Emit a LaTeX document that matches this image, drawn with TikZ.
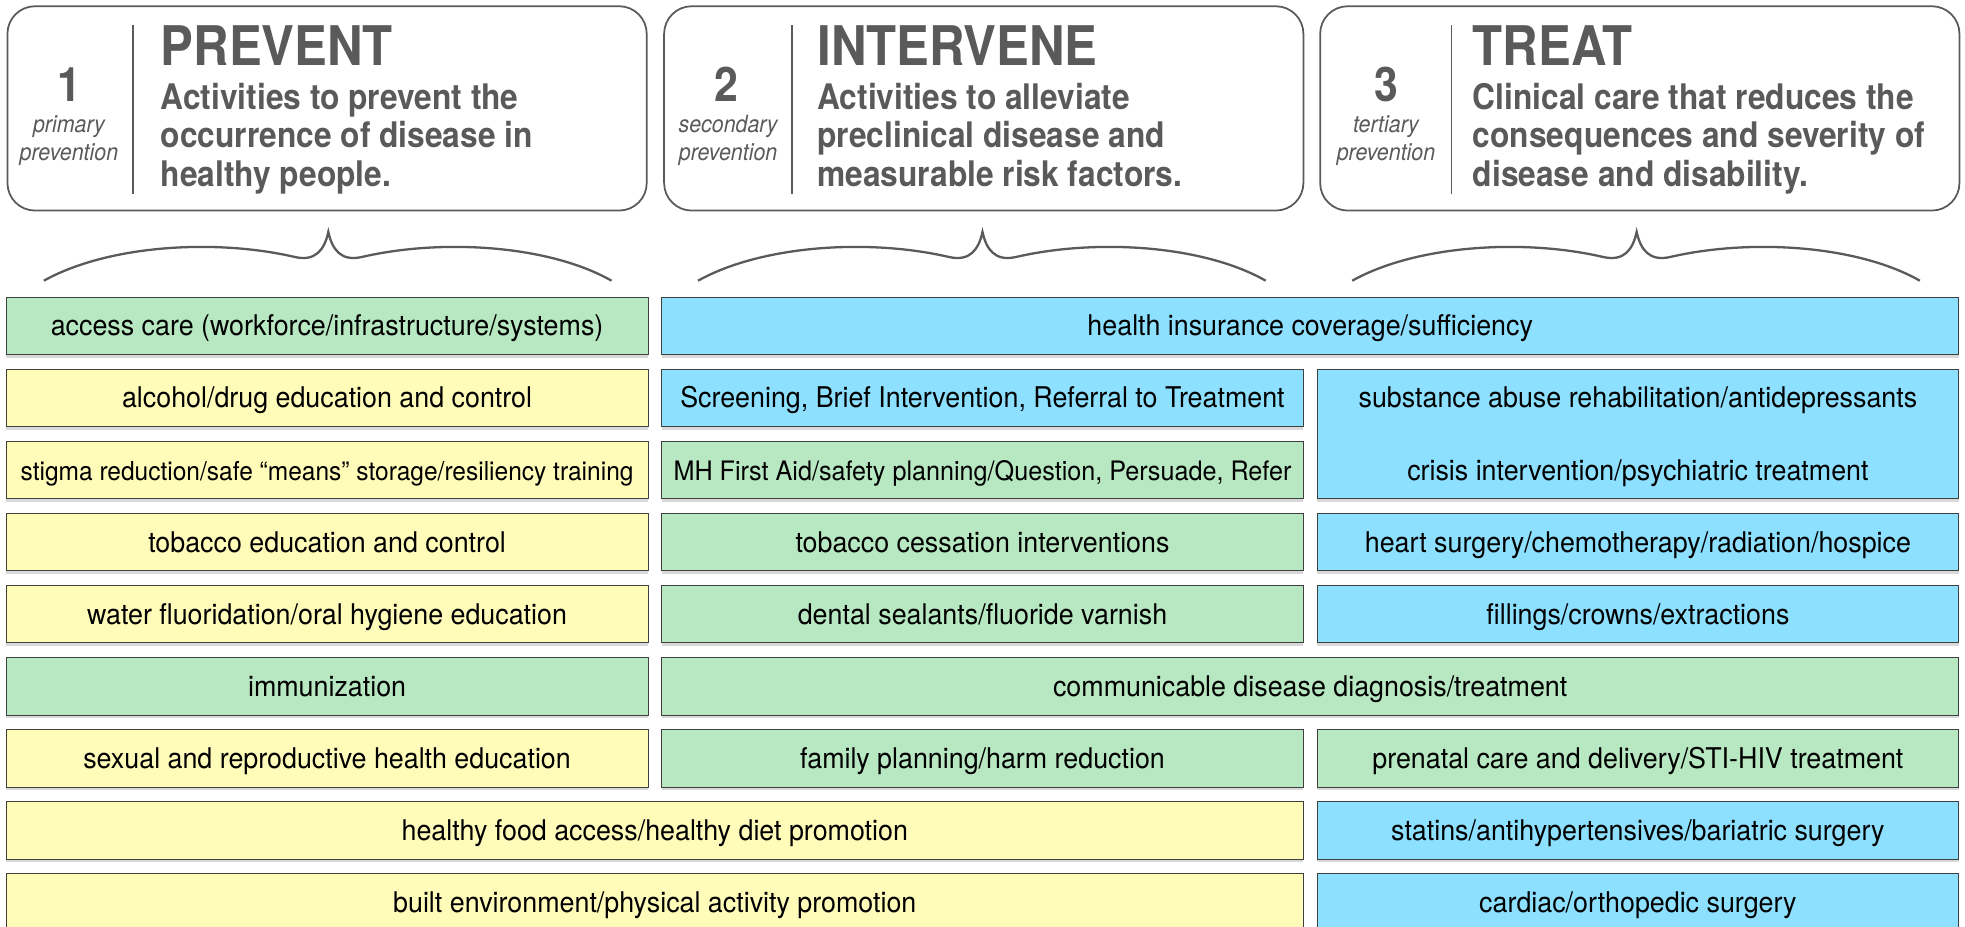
\documentclass[tikz,border=0pt]{standalone}
\usepackage{fontspec}
\setmainfont{TeX Gyre Heros}
\newfontfamily\headfont[FakeStretch=0.9]{TeX Gyre Heros}
\newfontfamily\rowfont[FakeStretch=0.94]{TeX Gyre Heros}
\usepackage{xcolor}
\usetikzlibrary{shadows}

\definecolor{cellgreen}{HTML}{B8E8C2}
\definecolor{cellyellow}{HTML}{FFFCBA}
\definecolor{cellblue}{HTML}{8DE0FF}
\definecolor{headgray}{HTML}{5A5A5A}

\begin{document}
\begin{tikzpicture}[
    x=0.025cm, y=-0.025cm,
    cell/.style={rectangle, draw=black!75, line width=0.5pt, fill=#1, minimum height=1.15cm, inner sep=0pt,
        font=\rowfont\fontsize{16.2}{19}\selectfont, text height=11.4pt, text depth=0pt,
        drop shadow={shadow xshift=0pt, shadow yshift=-1.8pt, opacity=0.3}},
    onecell/.style={cell=#1, minimum width=12.8cm},
    twocell/.style={cell=#1, minimum width=25.875cm},
    rowtext/.style={font=\rowfont\fontsize{16.2}{19}\selectfont, text height=11.4pt, text depth=0pt, inner sep=0pt},
    headbox/.style={rectangle, rounded corners=0.55cm, draw=headgray, line width=1pt, minimum width=12.75cm, minimum height=4.075cm},
    numtext/.style={font=\headfont\fontsize{27}{27}\selectfont\bfseries, text=headgray, inner sep=0pt},
    leveltext/.style={font=\headfont\fontsize{13.5}{15.6}\selectfont\itshape, text=headgray, align=center, inner sep=0pt},
    titletext/.style={font=\headfont\fontsize{31}{31}\selectfont\bfseries, text=headgray, inner sep=0pt},
    desctext/.style={font=\headfont\fontsize{20}{22}\selectfont\bfseries, text=headgray, align=left, inner sep=0pt},
    divider/.style={draw=headgray, line width=0.8pt},
    curly/.style={draw=headgray, line width=1.3pt},
]
\useasboundingbox (0,0) rectangle (1568,739);

% Header boxes
\node[headbox] (prevbox) at (261,86.5) {};
\node[headbox] (intbox) at (785,86.5) {};
\node[headbox] (treatbox) at (1308.5,86.5) {};

\draw[divider] (106,20) -- (106,155);
\draw[divider] (632,20) -- (632,155);
\draw[divider] (1158,20) -- (1158,155);

% 1 - prevent (base = last line)
\node[numtext, anchor=base] (prevnum) at (55,81) {1};
\node[leveltext, anchor=base] (prevlevel) at (55,128) {primary\\prevention};
\node[titletext, anchor=base west] (prevtitle) at (128,52) {PREVENT};
\node[desctext, anchor=base west] (prevdesc) at (128,149) {Activities to prevent the\\occurrence of disease in\\healthy people.};

% 2 - intervene
\node[numtext, anchor=base] (intnum) at (580,81) {2};
\node[leveltext, anchor=base] (intlevel) at (581,128) {secondary\\prevention};
\node[titletext, anchor=base west] (inttitle) at (652,52) {INTERVENE};
\node[desctext, anchor=base west] (intdesc) at (652,149) {Activities to alleviate\\preclinical disease and\\measurable risk factors.};

% 3 - treat
\node[numtext, anchor=base] (treatnum) at (1106,81) {3};
\node[leveltext, anchor=base] (treatlevel) at (1106,128) {tertiary\\prevention};
\node[titletext, anchor=base west] (treattitle) at (1175,52) {TREAT};
\node[desctext, anchor=base west] (treatdesc) at (1175,149) {Clinical care that reduces the\\consequences and severity of\\disease and disability.};

% Braces
\draw[curly] (35,224) .. controls (85,196) and (170,190) .. (235,205) .. controls (252,209) and (259,199) .. (262,185)
    .. controls (265,199) and (272,209) .. (289,205) .. controls (354,190) and (439,196) .. (488,224);
\draw[curly, shift={(522,0)}] (35,224) .. controls (85,196) and (170,190) .. (235,205) .. controls (252,209) and (259,199) .. (262,185)
    .. controls (265,199) and (272,209) .. (289,205) .. controls (354,190) and (439,196) .. (488,224);
\draw[curly, shift={(1044,0)}] (35,224) .. controls (85,196) and (170,190) .. (235,205) .. controls (252,209) and (259,199) .. (262,185)
    .. controls (265,199) and (272,209) .. (289,205) .. controls (354,190) and (439,196) .. (488,224);

% Row 1
\node[onecell=cellgreen] (access) at (261,260) {access care (workforce/infrastructure/systems)};
\node[twocell=cellblue] (insurance) at (1045.5,260) {health insurance coverage/sufficiency};

% Row 2
\node[onecell=cellyellow] (alcohol) at (261,317.5) {alcohol/drug education and control};
\node[onecell=cellblue] (sbirt) at (784,317.5) {Screening, Brief Intervention, Referral to Treatment};
\node[cell=cellblue, minimum width=12.8cm, minimum height=2.575cm] (rehab) at (1307,346.5) {};
\node[rowtext] (rehabtop) at (1307,317.5) {substance abuse rehabilitation/antidepressants};
\node[rowtext] (rehabbot) at (1307,375) {crisis intervention/psychiatric treatment};

% Row 3
\node[onecell=cellyellow, font=\rowfont\fontsize{14.8}{18}\selectfont] (stigma) at (261,375) {stigma reduction/safe \textquotedblleft means\textquotedblright\ storage/resiliency training};
\node[onecell=cellgreen, font=\rowfont\fontsize{15.2}{18}\selectfont] (firstaid) at (784,375) {MH First Aid/safety planning/Question, Persuade, Refer};

% Row 4
\node[onecell=cellyellow] (tobacco) at (261,432.5) {tobacco education and control};
\node[onecell=cellgreen] (cessation) at (784,432.5) {tobacco cessation interventions};
\node[onecell=cellblue] (heart) at (1307,432.5) {heart surgery/chemotherapy/radiation/hospice};

% Row 5
\node[onecell=cellyellow] (water) at (261,490) {water fluoridation/oral hygiene education};
\node[onecell=cellgreen] (sealants) at (784,490) {dental sealants/fluoride varnish};
\node[onecell=cellblue] (fillings) at (1307,490) {fillings/crowns/extractions};

% Row 6
\node[onecell=cellgreen] (immune) at (261,547.5) {immunization};
\node[twocell=cellgreen] (communicable) at (1045.5,547.5) {communicable disease diagnosis/treatment};

% Row 7
\node[onecell=cellyellow] (sexual) at (261,605) {sexual and reproductive health education};
\node[onecell=cellgreen] (planning) at (784,605) {family planning/harm reduction};
\node[onecell=cellgreen] (prenatal) at (1307,605) {prenatal care and delivery/STI-HIV treatment};

% Row 8
\node[twocell=cellyellow] (food) at (522.5,662.5) {healthy food access/healthy diet promotion};
\node[onecell=cellblue] (statins) at (1307,662.5) {statins/antihypertensives/bariatric surgery};

% Row 9
\node[twocell=cellyellow] (built) at (522.5,720) {built environment/physical activity promotion};
\node[onecell=cellblue] (cardiac) at (1307,720) {cardiac/orthopedic surgery};

\end{tikzpicture}
\end{document}
